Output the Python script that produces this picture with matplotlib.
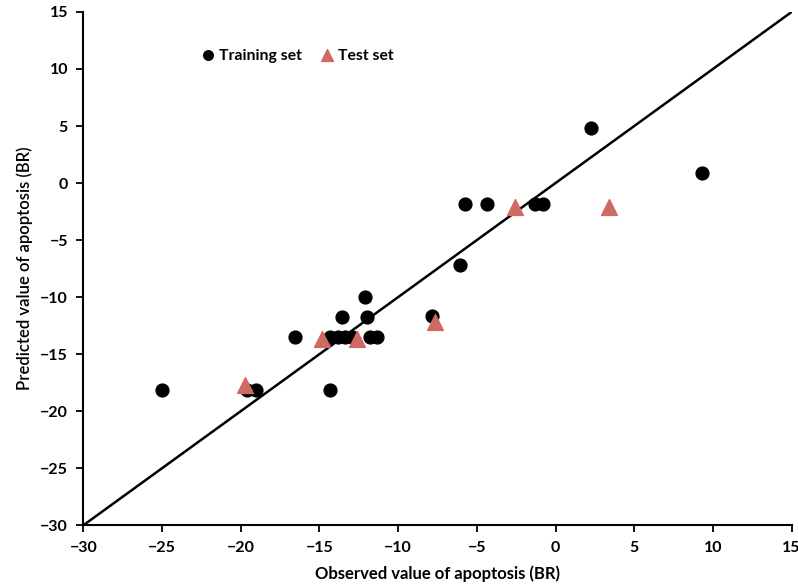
import matplotlib
matplotlib.use("Agg")
import matplotlib.pyplot as plt

train_x = [-25.0, -19.6, -19.0, -14.33, -16.56, -14.33, -13.82, -13.37, -12.93, -11.79, -11.35,
           -13.58, -11.97, -12.1, -7.87, -6.07, -5.75, -4.33, -1.3, -0.78, 2.26, 9.32]
train_y = [-18.1, -18.1, -18.1, -18.1, -13.46, -13.46, -13.46, -13.46, -13.46, -13.46, -13.46,
           -11.7, -11.7, -9.95, -11.65, -7.17, -1.83, -1.83, -1.83, -1.83, 4.8, 0.86]
test_x = [-19.7, -14.85, -12.6, -7.66, -2.57, 3.42]
test_y = [-17.7, -13.66, -13.66, -12.2, -2.06, -2.06]
ticks = [-30, -25, -20, -15, -10, -5, 0, 5, 10, 15]

plt.rcParams['font.family'] = ['Lato', 'DejaVu Sans']

fig = plt.figure(figsize=(7.98, 5.86), dpi=100)
ax = fig.add_axes([0.1044, 0.1036, 0.8876, 0.876])

ax.plot([-30, 15], [-30, 15], color='black', lw=1.8, zorder=1)
ax.scatter(train_x, train_y, s=85, color='black', marker='o', label='Training set', zorder=3)
ax.scatter(test_x, test_y, s=130, color='#cf6a63', marker='^', label='Test set', zorder=4)

ax.set_xlim(-30, 15)
ax.set_ylim(-30, 15)
ax.set_xticks(ticks)
ax.set_yticks(ticks)
ax.tick_params(direction='out', length=5, width=1.3, labelsize=11.5, pad=6)
for lab in ax.get_xticklabels() + ax.get_yticklabels():
    lab.set_fontweight('bold')
for s in ['top', 'right']:
    ax.spines[s].set_visible(False)
for s in ['left', 'bottom']:
    ax.spines[s].set_linewidth(1.5)

ax.set_xlabel('Observed value of apoptosis (BR)', fontsize=12, fontweight='bold', labelpad=8)
ax.set_ylabel('Predicted value of apoptosis (BR)', fontsize=12, fontweight='semibold', labelpad=5)

leg = ax.legend(loc='center left', bbox_to_anchor=(0.156, 0.915), ncol=2, frameon=False,
                prop={'size': 11.3, 'weight': 'bold'}, handlelength=0.8, handletextpad=0.3,
                columnspacing=1.2, borderpad=0, markerscale=0.75, scatterpoints=1)

fig.savefig('out.png', dpi=100)
